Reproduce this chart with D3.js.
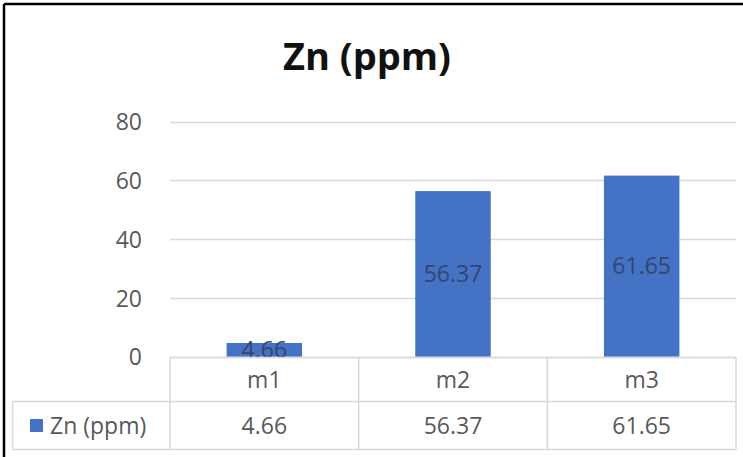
<!DOCTYPE html>
<html><head><meta charset="utf-8">
<script src="https://cdn.jsdelivr.net/npm/d3@7"></script>
<style>body{margin:0;background:#fff;} svg{display:block;}</style>
</head><body>
<svg id="c" width="743" height="457"></svg>
<script>
const title = "Zn (ppm)";
const seriesName = "Zn (ppm)";
const categories = ["m1", "m2", "m3"];
const values = [4.66, 56.37, 61.65];
const valueLabels = ["4.66", "56.37", "61.65"];
const yTicks = [0, 20, 40, 60, 80];

const svg = d3.select("#c");
const font = "'Open Sans', Lato, sans-serif";
const x = d3.scaleBand().domain(categories).range([170, 736]).paddingInner(0.6).paddingOuter(0.3);
const y = d3.scaleLinear().domain([0, 80]).range([356.7, 121.7]);
const gridC = "#d9d9d9";
const fs = 23;

// outer frame (top & left visible)
svg.append("line").attr("x1",4).attr("x2",743).attr("y1",4).attr("y2",4).attr("stroke","#000").attr("stroke-width",2.5);
svg.append("line").attr("x1",4).attr("x2",4).attr("y1",4).attr("y2",457).attr("stroke","#000").attr("stroke-width",2.5);

// title
svg.append("text").attr("x",367).attr("y",70).attr("text-anchor","middle")
  .attr("font-family",font).attr("font-weight","bold").attr("font-size",38).attr("fill","#111").text(title);

// gridlines
svg.append("g").selectAll("line").data(yTicks).join("line")
  .attr("x1",170).attr("x2",736).attr("y1",d=>Math.round(y(d))+0.5).attr("y2",d=>Math.round(y(d))+0.5)
  .attr("stroke",gridC).attr("stroke-width",1.5);

// y axis labels
const yAxis = d3.axisLeft(y).tickValues(yTicks).tickSize(0).tickPadding(0);
const ya = svg.append("g").attr("transform","translate(142,0)").call(yAxis);
ya.select(".domain").remove();
ya.selectAll("text").attr("font-family",font).attr("font-size",fs).attr("fill","#595959").attr("dy","0.36em");

// bars
svg.append("g").selectAll("rect").data(values).join("rect")
  .attr("x",(d,i)=>x(categories[i])).attr("width",x.bandwidth())
  .attr("y",d=>y(d)).attr("height",d=>y(0)-y(d)).attr("fill","#4472C4");

// data labels
svg.append("g").selectAll("text").data(values).join("text")
  .attr("x",(d,i)=>x(categories[i])+x.bandwidth()/2)
  .attr("y",d=>(y(d)+y(0))/2).attr("dy","0.36em").attr("text-anchor","middle")
  .attr("font-family",font).attr("font-size",fs).attr("fill","#34466e")
  .text((d,i)=>valueLabels[i]);

// data table
const tTop = Math.round(y(0))+0.5, tMid = 401.5, tBot = 449.5, tL = 12.5, tR = 736;
const tg = svg.append("g").attr("stroke",gridC).attr("stroke-width",1.5);
tg.append("line").attr("x1",170).attr("x2",tR).attr("y1",tTop).attr("y2",tTop);
tg.append("line").attr("x1",tL).attr("x2",tR).attr("y1",tMid).attr("y2",tMid);
tg.append("line").attr("x1",tL).attr("x2",tR).attr("y1",tBot).attr("y2",tBot);
tg.append("line").attr("x1",tL).attr("x2",tL).attr("y1",tMid).attr("y2",tBot);
const step = x.step();
const edges = [170].concat(categories.map((c,i)=>170+step*(i+1)));
tg.selectAll("line.v").data(edges).join("line").attr("class","v")
  .attr("x1",d=>d).attr("x2",d=>d).attr("y1",tTop).attr("y2",tBot);

// category row
svg.append("g").selectAll("text").data(categories).join("text")
  .attr("x",d=>x(d)+x.bandwidth()/2).attr("y",(tTop+tMid)/2).attr("dy","0.36em")
  .attr("text-anchor","middle").attr("font-family",font).attr("font-size",fs).attr("fill","#595959").text(d=>d);
// value row
svg.append("g").selectAll("text").data(valueLabels).join("text")
  .attr("x",(d,i)=>x(categories[i])+x.bandwidth()/2).attr("y",(tMid+tBot)/2).attr("dy","0.36em")
  .attr("text-anchor","middle").attr("font-family",font).attr("font-size",fs).attr("fill","#595959").text(d=>d);
// legend key
svg.append("rect").attr("x",30).attr("y",419).attr("width",13).attr("height",13).attr("fill","#4472C4");
svg.append("text").attr("x",50).attr("y",(tMid+tBot)/2).attr("dy","0.36em")
  .attr("font-family",font).attr("font-size",fs).attr("fill","#595959").text(seriesName);
</script>
</body></html>
